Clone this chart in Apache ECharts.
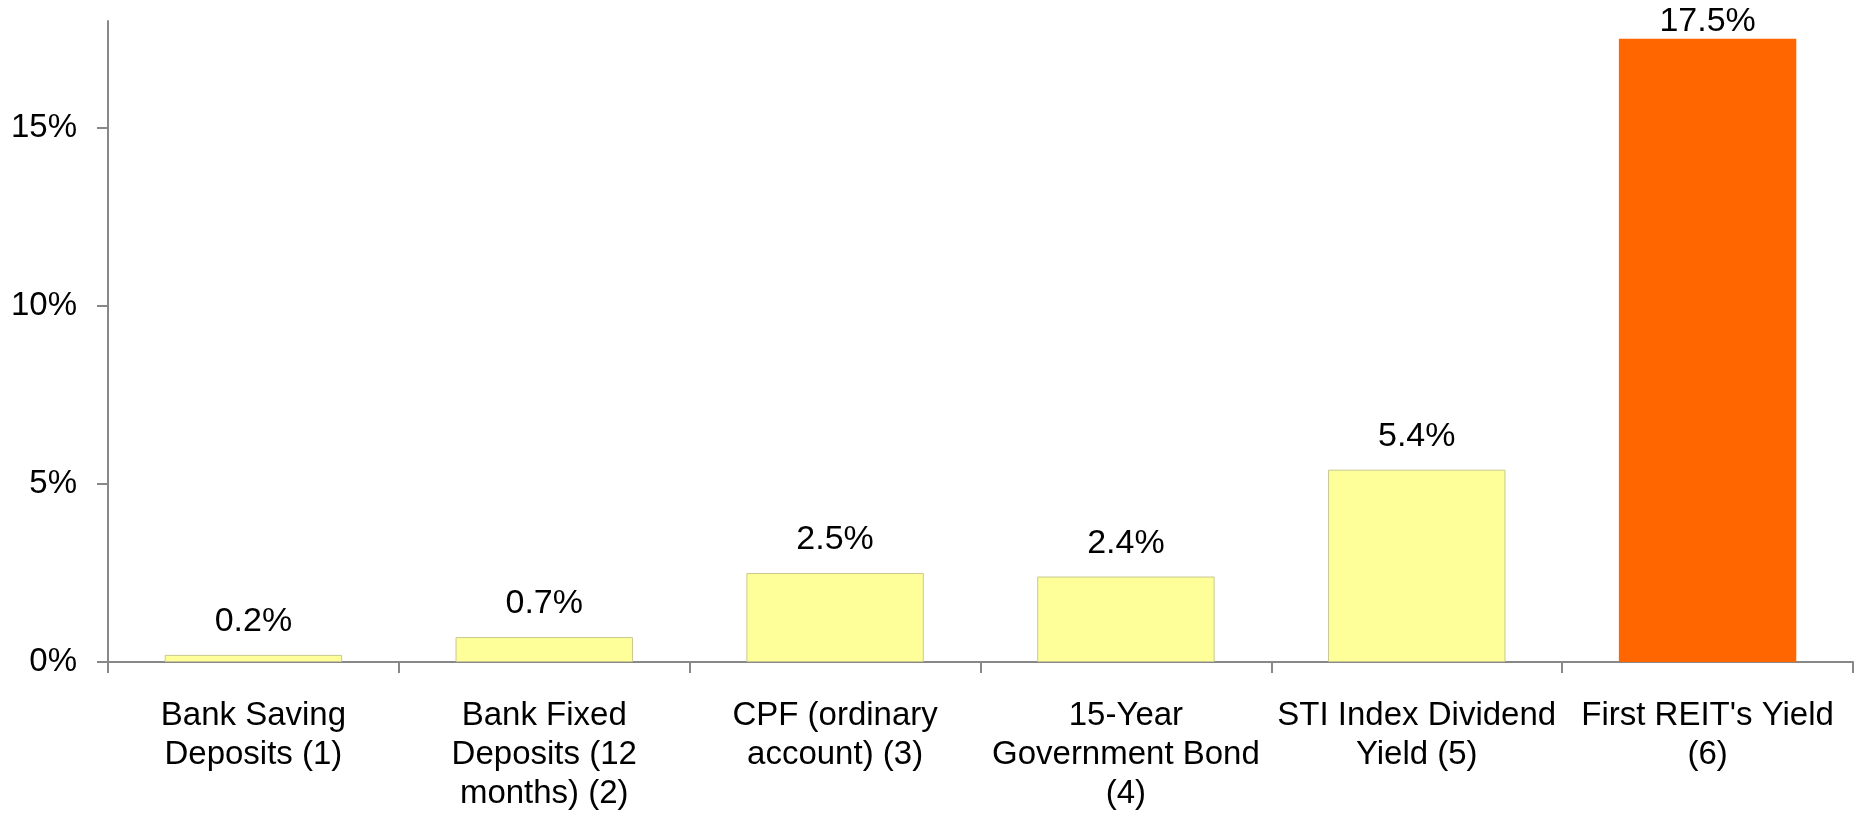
<!DOCTYPE html>
<html>
<head>
<meta charset="utf-8">
<title>Yield comparison</title>
<script src="https://cdn.jsdelivr.net/npm/echarts@6/dist/echarts.min.js"></script>
<style>
  html, body { margin: 0; padding: 0; background: #fff; }
  #chart { width: 1860px; height: 822px; }
</style>
</head>
<body>
<div id="chart"></div>
<script>
// categories (x axis)
const categories = [
    'Bank Saving\nDeposits (1)',
    'Bank Fixed\nDeposits (12\nmonths) (2)',
    'CPF (ordinary\naccount) (3)',
    '15-Year\nGovernment Bond\n(4)',
    'STI Index Dividend\nYield (5)',
    "First REIT's Yield\n(6)"
];

// yields in %
const yields = [0.2, 0.7, 2.5, 2.4, 5.4, 17.5];

// y axis ticks
const yTicks = [0, 5, 10, 15];

const highlightIndex = 5;   // First REIT bar

const chart = echarts.init(document.getElementById('chart'));

const font = 'Arial, "Liberation Sans", sans-serif';

const option = {
    animation: false,
    grid: {
        left: 108,
        right: 7,
        top: 21,
        bottom: 160
    },
    xAxis: {
        type: 'category',
        data: categories,
        axisLine: { lineStyle: { color: '#888', width: 2 } },
        axisTick: { show: true, length: 11, lineStyle: { color: '#888', width: 2 } },
        axisLabel: {
            interval: 0,
            margin: 34,
            color: '#000',
            fontFamily: font,
            fontSize: 33,
            lineHeight: 39,
            align: 'center'
        }
    },
    yAxis: {
        type: 'value',
        min: 0,
        max: 18,
        interval: 5,
        splitLine: { show: false },
        axisLine: { show: true, lineStyle: { color: '#888', width: 2 } },
        axisTick: {
            show: true,
            length: 11,
            customValues: yTicks,
            lineStyle: { color: '#888', width: 2 }
        },
        axisLabel: {
            customValues: yTicks,
            margin: 31,
            color: '#000',
            fontFamily: font,
            fontSize: 33,
            formatter: '{value}%'
        }
    },
    series: [
        {
            type: 'bar',
            barCategoryGap: '39%',
            data: yields.map((v, i) => ({
                value: v,
                // the top bar's label sits tight against the bar, like the original
                label: i === highlightIndex ? { distance: 0 } : undefined,
                itemStyle: i === highlightIndex
                    ? { color: '#ff6600' }
                    : { color: '#ffff99', borderColor: '#c8c890', borderWidth: 1 }
            })),
            label: {
                show: true,
                position: 'top',
                distance: 16,
                color: '#000',
                fontFamily: font,
                fontSize: 34,
                formatter: (p) => p.value.toFixed(1) + '%'
            }
        }
    ]
};

chart.setOption(option);
</script>
</body>
</html>
